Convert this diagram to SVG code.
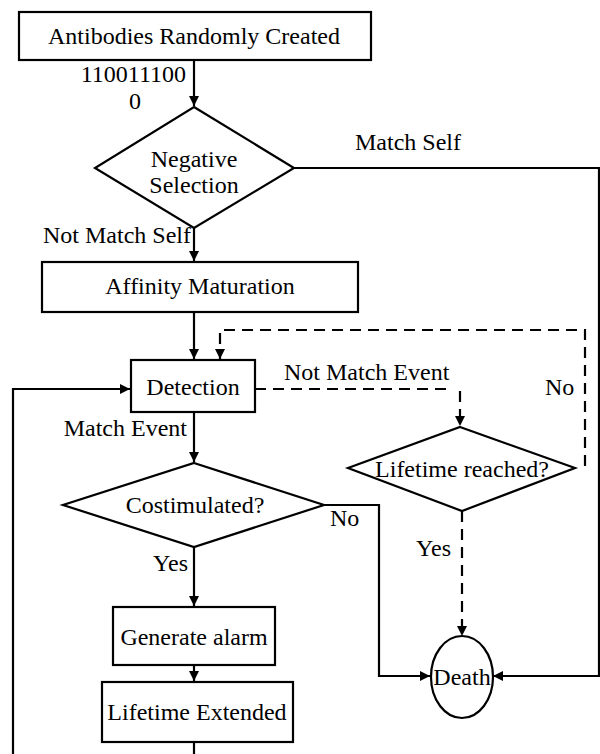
<svg xmlns="http://www.w3.org/2000/svg" width="600" height="754" viewBox="0 0 600 754">
<defs>
<marker id="ah" viewBox="0 0 10 10" refX="10" refY="5" markerWidth="10" markerHeight="10" markerUnits="userSpaceOnUse" orient="auto">
<path d="M0,0 L10,5 L0,10 z" fill="#000"/>
</marker>
</defs>
<style>
.n{fill:#fff;stroke:#000;stroke-width:2.2}
text{font-family:'Liberation Serif','Times New Roman',serif;font-size:24px;fill:#000}
.c{text-anchor:middle}
.r{text-anchor:end}
.l{fill:none;stroke:#000;stroke-width:2.2}
.d{fill:none;stroke:#000;stroke-width:2.2;stroke-dasharray:11 7}
</style>
<rect width="600" height="754" fill="#fff"/>
<g id="connectors">
<path class="l" d="M194,60 V106" marker-end="url(#ah)"/>
<path class="l" d="M294,168 H599 V676 H493" marker-end="url(#ah)"/>
<path class="l" d="M194,228 V261" marker-end="url(#ah)"/>
<path class="l" d="M194,312 V359" marker-end="url(#ah)"/>
<path class="l" d="M194,742 V770 H13 V389 H130" marker-end="url(#ah)"/>
<path class="l" d="M194,412 V462" marker-end="url(#ah)"/>
<path class="l" d="M324,505 H379 V676 H430" marker-end="url(#ah)"/>
<path class="l" d="M194,547 V606" marker-end="url(#ah)"/>
<path class="l" d="M194,665 V681" marker-end="url(#ah)"/>
<path class="d" d="M255,389 H453" />
<path class="d" d="M460,391 V426" marker-end="url(#ah)"/>
<path class="d" d="M585,466 V330 H220 V359" marker-end="url(#ah)"/>
<path class="d" d="M462,511 V636" marker-end="url(#ah)"/>
<text class="r" x="186" y="82">110011100</text>
<text class="c" x="135" y="109">0</text>
<text x="355" y="150">Match Self</text>
<text class="r" x="191" y="243">Not Match Self</text>
<text class="r" x="187" y="436">Match Event</text>
<text x="284" y="380">Not Match Event</text>
<text x="545" y="395">No</text>
<text x="330" y="526">No</text>
<text class="r" x="188" y="571">Yes</text>
<text class="r" x="451" y="556">Yes</text>
</g>
<g id="antibodies">
<rect class="n" x="19" y="12" width="352" height="48"/>
<text class="c" x="194" y="44">Antibodies Randomly Created</text>
</g>
<g id="negative-selection">
<polygon class="n" points="194,107 294,168 194,228 95,168"/>
<text class="c" x="194" y="167">Negative</text>
<text class="c" x="194" y="193">Selection</text>
</g>
<g id="affinity">
<rect class="n" x="42" y="262" width="316" height="50"/>
<text class="c" x="200" y="294">Affinity Maturation</text>
</g>
<g id="detection">
<rect class="n" x="131" y="360" width="124" height="52"/>
<text class="c" x="193" y="395">Detection</text>
</g>
<g id="costimulated">
<polygon class="n" points="194,463 324,505 194,547 63,505"/>
<text class="c" x="195" y="513">Costimulated?</text>
</g>
<g id="lifetime-reached">
<polygon class="n" points="460,427 575,468 462,511 348,468"/>
<text class="c" x="462" y="477">Lifetime reached?</text>
</g>
<g id="generate-alarm">
<rect class="n" x="113" y="607" width="162" height="58"/>
<text class="c" x="194" y="645">Generate alarm</text>
</g>
<g id="lifetime-extended">
<rect class="n" x="102" y="682" width="191" height="60"/>
<text class="c" x="197" y="720">Lifetime Extended</text>
</g>
<g id="death">
<ellipse class="n" cx="462" cy="677" rx="31" ry="41"/>
<text class="c" x="462" y="685">Death</text>
</g>
</svg>
